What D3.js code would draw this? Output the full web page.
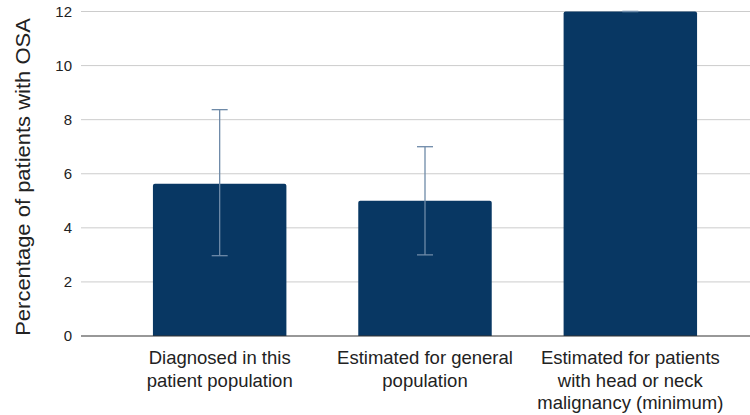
<!DOCTYPE html>
<html>
<head>
<meta charset="utf-8">
<script src="https://cdn.jsdelivr.net/npm/d3@7"></script>
<style>
  body { margin: 0; background: #fff; }
  text { font-family: "Liberation Sans", Arial, sans-serif; }
</style>
</head>
<body>
<script>
// Chart data
const categories = [
  ["Diagnosed in this", "patient population"],
  ["Estimated for general", "population"],
  ["Estimated for patients", "with head or neck", "malignancy (minimum)"]
];
const values = [5.63, 5.0, 12];
const errLow = [2.97, 3.0, 12];
const errHigh = [8.37, 7.0, 12];
const yTicks = [0, 2, 4, 6, 8, 10, 12];

const w = 750;
const h = 415;
const barColor = "#083763";
const errColor = "#6e8aa8";

const svg = d3.select('body')
  .append('svg')
  .attr('width', w)
  .attr('height', h);

const xScale = d3.scaleBand()
  .domain(d3.range(values.length))
  .range([117, 733])
  .paddingInner(0.35)
  .paddingOuter(0.175);

const yScale = d3.scaleLinear()
  .domain([0, 12])
  .range([336, 11.5]);

// Gridlines
svg.append('g')
  .selectAll('line')
  .data(yTicks.filter(d => d !== 0))
  .enter()
  .append('line')
  .attr('x1', 81)
  .attr('x2', w)
  .attr('y1', d => yScale(d))
  .attr('y2', d => yScale(d))
  .attr('stroke', '#cccccc')
  .attr('stroke-width', 1);

// Y axis labels
const yAxis = d3.axisLeft(yScale)
  .tickValues(yTicks)
  .tickSize(0)
  .tickPadding(0);

svg.append('g')
  .attr('transform', 'translate(72,0)')
  .call(yAxis)
  .call(g => g.select('.domain').remove())
  .selectAll('text')
  .attr('font-size', 15)
  .attr('fill', '#222')
  .style('font-family', '"Liberation Sans", Arial, sans-serif');

// Bars
svg.selectAll('path.bar')
  .data(values)
  .enter()
  .append('path')
  .attr('class', 'bar')
  .attr('fill', barColor)
  .attr('d', (d, i) => {
    const x0 = xScale(i), x1 = x0 + xScale.bandwidth();
    const y0 = yScale(0), y1 = yScale(d), r = 2;
    return `M${x0},${y0}V${y1 + r}Q${x0},${y1} ${x0 + r},${y1}H${x1 - r}Q${x1},${y1} ${x1},${y1 + r}V${y0}Z`;
  });

// Baseline
svg.append('line')
  .attr('x1', 81)
  .attr('x2', w)
  .attr('y1', yScale(0))
  .attr('y2', yScale(0))
  .attr('stroke', '#333')
  .attr('stroke-width', 1.2);

// Error bars
const err = svg.append('g')
  .selectAll('g')
  .data(values.map((v, i) => ({ i, lo: errLow[i], hi: errHigh[i] })))
  .enter()
  .append('g')
  .attr('stroke', errColor)
  .attr('stroke-width', 1.3);

const cx = d => xScale(d.i) + xScale.bandwidth() / 2;

err.append('line')
  .attr('x1', cx).attr('x2', cx)
  .attr('y1', d => yScale(d.lo))
  .attr('y2', d => yScale(d.hi));
err.append('line')
  .attr('x1', d => cx(d) - 8).attr('x2', d => cx(d) + 8)
  .attr('y1', d => yScale(d.hi)).attr('y2', d => yScale(d.hi));
err.append('line')
  .attr('x1', d => cx(d) - 8).attr('x2', d => cx(d) + 8)
  .attr('y1', d => yScale(d.lo)).attr('y2', d => yScale(d.lo));

// Category labels
const labels = svg.append('g')
  .selectAll('text')
  .data(categories)
  .enter()
  .append('text')
  .attr('text-anchor', 'middle')
  .attr('font-size', 18.5)
  .attr('fill', '#222')
  .attr('transform', (d, i) => `translate(${xScale(i) + xScale.bandwidth() / 2},364)`);

labels.selectAll('tspan')
  .data(d => d)
  .enter()
  .append('tspan')
  .attr('x', 0)
  .attr('y', (d, j) => j * 22.5)
  .text(d => d);

// Y axis title
svg.append('text')
  .attr('transform', 'translate(30,177) rotate(-90) scale(1,0.9)')
  .attr('text-anchor', 'middle')
  .attr('font-size', 22)
  .attr('fill', '#222')
  .text('Percentage of patients with OSA');
</script>
</body>
</html>
